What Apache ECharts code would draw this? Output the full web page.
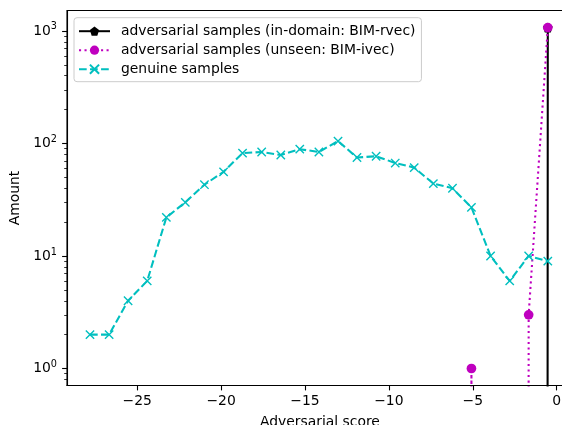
<!DOCTYPE html>
<html>
<head>
<meta charset="utf-8">
<script src="https://cdn.jsdelivr.net/npm/echarts@6/dist/echarts.min.js"></script>
<style>
html,body{margin:0;padding:0;background:#fff;}
#chart{width:562px;height:425px;}
</style>
</head>
<body>
<div id="chart"></div>
<script>
// ---- data ----
const binCenters = [-27.81, -26.67, -25.54, -24.40, -23.26, -22.13, -20.99, -19.85, -18.72, -17.58, -16.44, -15.31, -14.17, -13.03, -11.90, -10.76, -9.62, -8.49, -7.35, -6.21, -5.08, -3.94, -2.80, -1.67, -0.53];
const genuineCounts = [2, 2, 4, 6, 22, 30, 43, 56, 82, 84, 79, 89, 84, 105, 75, 77, 67, 61, 44, 40, 27, 10, 6, 10, 9];
const rvecCounts = [0, 0, 0, 0, 0, 0, 0, 0, 0, 0, 0, 0, 0, 0, 0, 0, 0, 0, 0, 0, 0, 0, 0, 0, 1072];
const ivecCounts = [0, 0, 0, 0, 0, 0, 0, 0, 0, 0, 0, 0, 0, 0, 0, 0, 0, 0, 0, 0, 1, 0, 0, 3, 1072];
const seriesNames = ['adversarial samples (in-domain: BIM-rvec)', 'adversarial samples (unseen: BIM-ivec)', 'genuine samples'];
const xTickValues = [-25, -20, -15, -10, -5, 0];
const yMajorTicks = [1, 10, 100, 1000];
const yMinorTicks = [0.8, 0.9, 2, 3, 4, 5, 6, 7, 8, 9, 20, 30, 40, 50, 60, 70, 80, 90, 200, 300, 400, 500, 600, 700, 800, 900];

// zero counts on a log axis go off the bottom of the plot (as in matplotlib's clip mode)
const TINY = 1e-300;
function pairs(counts) {
  return binCenters.map((x, i) => [x, counts[i] > 0 ? counts[i] : TINY]);
}
function sizeFn(s) {
  return function (v) { return v[1] > 0.01 ? s : 0; };
}

const FONT = 'DejaVu Sans';
const FS = 13.9;
const LW = 2.08;
const MS = 8.33;
const MS_FILLED = 9.7;

const chart = echarts.init(document.getElementById('chart'), null, {renderer: 'canvas'});
chart.setOption({
  animation: false,
  backgroundColor: '#ffffff',
  grid: {
    left: 67, top: 10.5, width: 505.8, height: 375,
    show: true, borderColor: '#000', borderWidth: 1.1, backgroundColor: 'transparent',
    containLabel: false,
    outerBoundsMode: 'none'
  },
  legend: {
    orient: 'vertical',
    left: 74, top: 17.7,
    padding: [6.5, 6, 5.5, 4],
    itemWidth: 31, itemHeight: 11.5, itemGap: 5,
    backgroundColor: 'rgba(255,255,255,0.8)',
    borderColor: '#cccccc', borderWidth: 1, borderRadius: 3,
    textStyle: {fontFamily: FONT, fontSize: FS, color: '#000', padding: [0, 0, 0, 6]},
    data: seriesNames
  },
  xAxis: {
    type: 'value',
    min: -29.18, max: 0.96,
    name: 'Adversarial score',
    nameLocation: 'middle', nameGap: 30,
    nameTextStyle: {fontFamily: FONT, fontSize: FS, color: '#000'},
    axisLine: {show: true, onZero: false, lineStyle: {color: '#000', width: 1.1}},
    axisTick: {show: true, length: 4.9, lineStyle: {color: '#000', width: 1.1}, customValues: xTickValues},
    axisLabel: {
      show: true, margin: 9, fontFamily: FONT, fontSize: FS, color: '#000',
      customValues: xTickValues,
      formatter: function (v) { return v < 0 ? '\u2212' + Math.abs(v) : String(v); }
    },
    splitLine: {show: false}
  },
  yAxis: [{
    type: 'log', logBase: 10,
    min: 0.706, max: 1520,
    position: 'left',
    name: 'Amount',
    nameLocation: 'middle', nameGap: 35, nameRotate: 90,
    nameTextStyle: {fontFamily: FONT, fontSize: FS, color: '#000'},
    axisLine: {show: true, onZero: false, lineStyle: {color: '#000', width: 1.1}},
    axisTick: {show: true, length: 4.9, lineStyle: {color: '#000', width: 1.1}, customValues: yMajorTicks},
    axisLabel: {
      show: true, margin: 10, fontFamily: FONT, fontSize: FS, color: '#000', lineHeight: 18,
      customValues: yMajorTicks,
      formatter: function (v) { return '10{s|' + Math.round(Math.log10(v)) + '}'; },
      rich: {s: {fontFamily: FONT, fontSize: 9.7, lineHeight: 10, verticalAlign: 'top', color: '#000'}}
    },
    splitLine: {show: false},
    minorTick: {show: false}
  }, {
    type: 'log', logBase: 10,
    min: 0.706, max: 1520,
    position: 'left', offset: 0,
    axisLine: {show: false, onZero: false},
    axisTick: {show: true, length: 2.8, lineStyle: {color: '#000', width: 0.8}, customValues: yMinorTicks},
    axisLabel: {show: false},
    splitLine: {show: false}
  }],
  series: [{
    name: seriesNames[0],
    type: 'line',
    data: pairs(rvecCounts),
    symbol: 'path://M0,-1 L0.951,-0.309 L0.588,0.809 L-0.588,0.809 L-0.951,-0.309 Z',
    symbolSize: sizeFn(MS_FILLED),
    showAllSymbol: true,
    itemStyle: {color: '#000000'},
    lineStyle: {color: '#000000', width: LW, type: 'solid'},
    clip: true
  }, {
    name: seriesNames[1],
    type: 'line',
    data: pairs(ivecCounts),
    symbol: 'circle',
    symbolSize: sizeFn(MS_FILLED),
    showAllSymbol: true,
    itemStyle: {color: '#bf00bf', borderWidth: 0},
    lineStyle: {color: '#bf00bf', width: LW, type: [2.08, 3.43]},
    clip: true
  }, {
    name: seriesNames[2],
    type: 'line',
    data: pairs(genuineCounts),
    symbol: 'path://M0,0 L10,10 M10,0 L0,10',
    symbolSize: sizeFn(MS),
    showAllSymbol: true,
    itemStyle: {color: '#00bfbf', borderColor: '#00bfbf', borderWidth: 1.4},
    lineStyle: {color: '#00bfbf', width: LW, type: [7.7, 3.33]},
    clip: true
  }]
});
</script>
</body>
</html>
